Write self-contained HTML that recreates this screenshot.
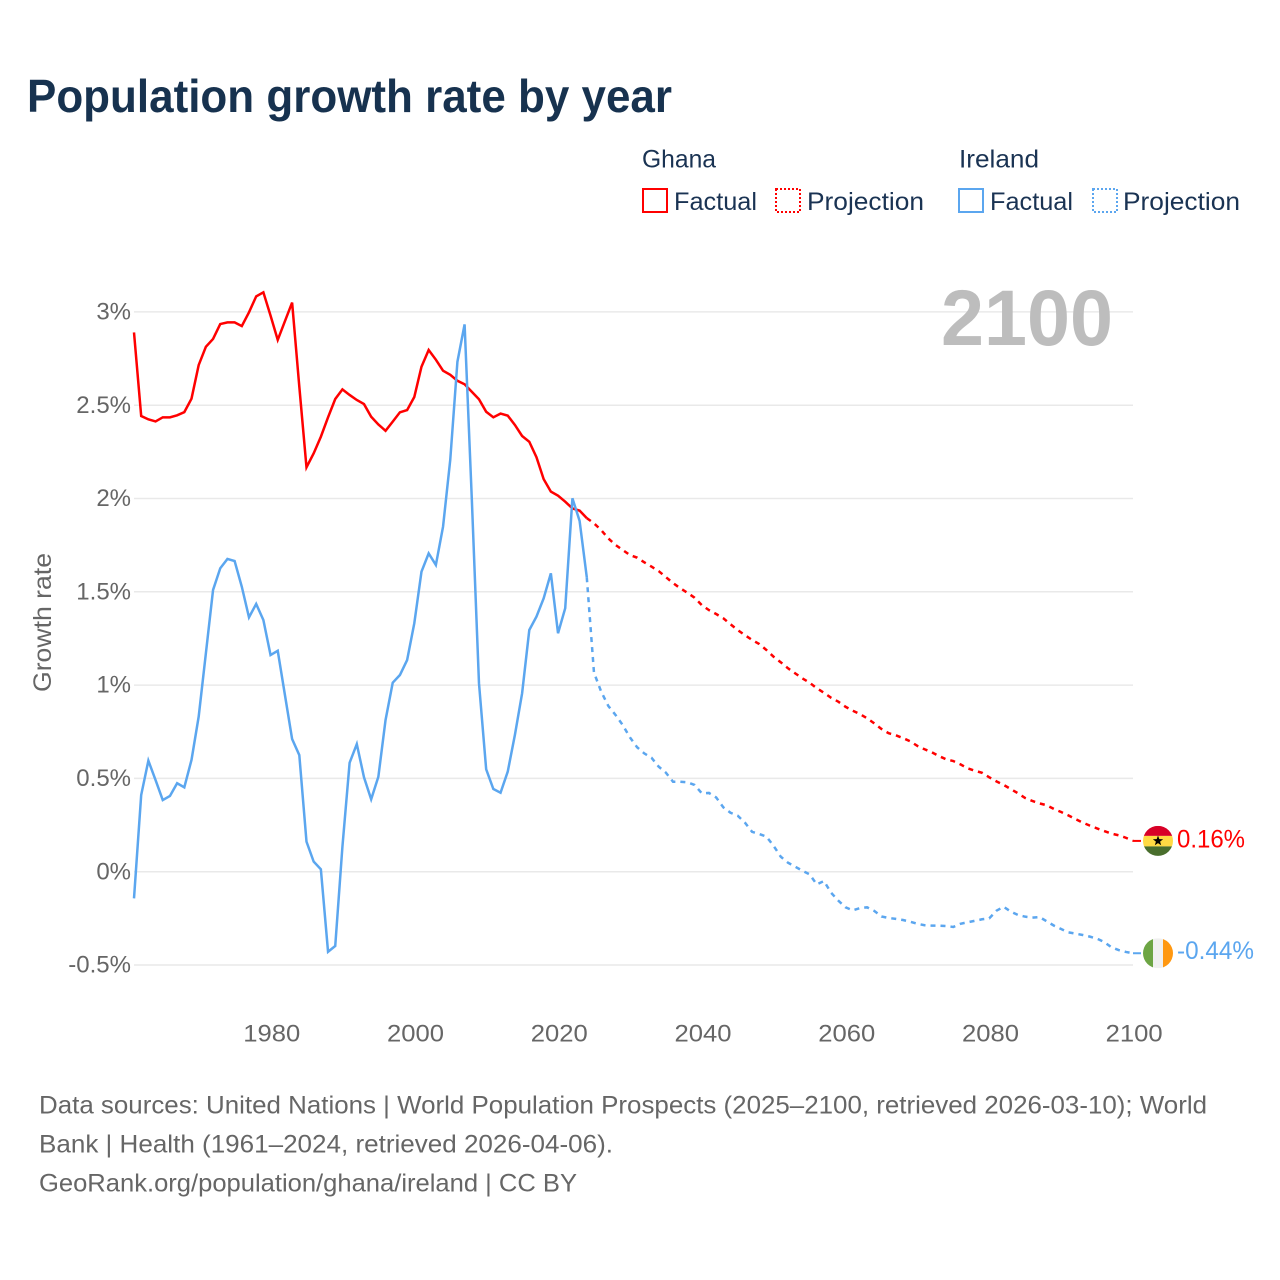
<!DOCTYPE html>
<html lang="en">
<head>
<meta charset="utf-8">
<title>Population growth rate by year</title>
<style>
html,body{margin:0;padding:0;background:#fff;width:1280px;height:1280px;overflow:hidden}
svg{display:block}
text{font-family:"Liberation Sans",sans-serif}
</style>
</head>
<body>
<svg id="chart" xmlns="http://www.w3.org/2000/svg" width="1280" height="1280" viewBox="0 0 1280 1280">
  <rect width="1280" height="1280" fill="#fff"/>
  <text x="27" y="112" font-size="46" font-weight="700" fill="#17324f" textLength="645" lengthAdjust="spacingAndGlyphs">Population growth rate by year</text>

  <g font-size="25" fill="#1a3353">
    <text x="642" y="167.5" textLength="74" lengthAdjust="spacingAndGlyphs">Ghana</text>
    <text x="959" y="167.5" textLength="80" lengthAdjust="spacingAndGlyphs">Ireland</text>
    <g>
      <rect x="643" y="189" width="24" height="23" fill="none" stroke="#ff0000" stroke-width="2"/>
      <text x="674" y="210" textLength="83" lengthAdjust="spacingAndGlyphs">Factual</text>
    </g>
    <g>
      <rect x="776" y="189" width="24" height="23" fill="none" stroke="#ff0000" stroke-width="2" stroke-dasharray="2 2"/>
      <text x="807" y="210" textLength="117" lengthAdjust="spacingAndGlyphs">Projection</text>
    </g>
    <g>
      <rect x="959" y="189" width="24" height="23" fill="none" stroke="#5ba6ef" stroke-width="2"/>
      <text x="990" y="210" textLength="83" lengthAdjust="spacingAndGlyphs">Factual</text>
    </g>
    <g>
      <rect x="1093" y="189" width="24" height="23" fill="none" stroke="#5ba6ef" stroke-width="2" stroke-dasharray="2 2"/>
      <text x="1123" y="210" textLength="117" lengthAdjust="spacingAndGlyphs">Projection</text>
    </g>
  </g>

  <g id="grid"></g>
  <g id="yticks"></g>
  <g id="xticks"></g>
  <text transform="translate(51,622.5) rotate(-90)" text-anchor="middle" font-size="25" fill="#666" textLength="139" lengthAdjust="spacingAndGlyphs">Growth rate</text>
  <text x="941" y="345" font-size="79" font-weight="700" fill="#bdbdbd" textLength="172" lengthAdjust="spacingAndGlyphs">2100</text>

  <g id="series"></g>

  <defs>
    <clipPath id="clip-ghana"><circle id="clip-ghana-c" r="15"/></clipPath>
    <clipPath id="clip-ireland"><circle id="clip-ireland-c" r="15"/></clipPath>
  </defs>
  <g id="ends"></g>

  <g font-size="25" fill="#666">
    <text x="39" y="1113.5" textLength="1168" lengthAdjust="spacingAndGlyphs">Data sources: United Nations | World Population Prospects (2025–2100, retrieved 2026-03-10); World</text>
    <text x="39" y="1152.5" textLength="574" lengthAdjust="spacingAndGlyphs">Bank | Health (1961–2024, retrieved 2026-04-06).</text>
    <text x="39" y="1191.5" textLength="538" lengthAdjust="spacingAndGlyphs">GeoRank.org/population/ghana/ireland | CC BY</text>
  </g>
</svg>
<script>
const yTickValues = [3, 2.5, 2, 1.5, 1, 0.5, 0, -0.5];
const yTickLabels = ["3%", "2.5%", "2%", "1.5%", "1%", "0.5%", "0%", "-0.5%"];
const xTickYears = [1980, 2000, 2020, 2040, 2060, 2080, 2100];
const xTickLabels = ["1980", "2000", "2020", "2040", "2060", "2080", "2100"];

const factualStartYear = 1961;
const projectionStartYear = 2024;

const ghanaFactual = [2.89,2.442,2.424,2.413,2.435,2.435,2.446,2.463,2.535,2.715,
2.813,2.855,2.935,2.944,2.944,2.924,2.998,3.083,3.105,2.98,
2.85,2.95,3.05,2.6,2.167,2.242,2.331,2.435,2.533,2.585,
2.555,2.528,2.506,2.438,2.397,2.363,2.412,2.462,2.474,2.544,
2.706,2.796,2.744,2.685,2.663,2.631,2.612,2.572,2.532,2.465,
2.435,2.455,2.444,2.394,2.335,2.304,2.221,2.104,2.037,2.015,
1.983,1.947,1.935,1.895];

const ghanaProjection = [1.895,1.867,1.831,1.786,1.751,1.724,1.697,1.683,1.658,1.635,
1.611,1.579,1.547,1.519,1.495,1.468,1.429,1.402,1.381,1.358,
1.326,1.295,1.268,1.242,1.22,1.188,1.152,1.122,1.09,1.063,
1.036,1.013,0.983,0.959,0.932,0.911,0.884,0.863,0.845,0.822,
0.795,0.765,0.742,0.731,0.716,0.699,0.674,0.656,0.64,0.62,
0.602,0.593,0.575,0.554,0.541,0.53,0.506,0.484,0.465,0.443,
0.42,0.395,0.379,0.366,0.356,0.336,0.32,0.302,0.282,0.263,
0.247,0.232,0.218,0.204,0.195,0.182,0.165];

const irelandFactual = [-0.143,0.411,0.595,0.491,0.384,0.406,0.474,0.452,0.599,0.831,
1.17,1.51,1.626,1.676,1.665,1.527,1.363,1.435,1.349,1.161,
1.184,0.947,0.711,0.625,0.161,0.054,0.013,-0.429,-0.398,0.134,
0.584,0.684,0.506,0.388,0.509,0.813,1.013,1.054,1.134,1.331,
1.608,1.706,1.644,1.849,2.206,2.733,2.933,2.0,1.01,0.549,
0.443,0.423,0.536,0.733,0.956,1.295,1.367,1.465,1.599,1.278,
1.412,2.001,1.88,1.578];

const irelandProjection = [1.578,1.067,0.965,0.888,0.84,0.786,0.72,0.667,0.634,0.611,
0.563,0.531,0.482,0.482,0.479,0.465,0.42,0.422,0.398,0.345,
0.316,0.3,0.263,0.214,0.202,0.188,0.138,0.08,0.048,0.027,
0.005,-0.014,-0.068,-0.05,-0.113,-0.155,-0.191,-0.207,-0.195,-0.191,
-0.21,-0.24,-0.248,-0.253,-0.259,-0.268,-0.279,-0.287,-0.289,-0.289,
-0.291,-0.296,-0.279,-0.271,-0.263,-0.255,-0.25,-0.209,-0.188,-0.214,
-0.232,-0.241,-0.246,-0.243,-0.266,-0.289,-0.307,-0.325,-0.332,-0.339,
-0.348,-0.359,-0.377,-0.405,-0.42,-0.43,-0.437];

const ghanaEndLabel = "0.16%";
const irelandEndLabel = "-0.44%";

const NS = "http://www.w3.org/2000/svg";
const plotLeft = 134;
const plotRight = 1133;
function xScale(year) { return plotLeft + (year - 1961) * (plotRight - plotLeft) / 139; }
function yScale(v) { return 871.7 - v * 186.6; }

function mk(tag, attrs) {
  const el = document.createElementNS(NS, tag);
  for (const k in attrs) el.setAttribute(k, attrs[k]);
  return el;
}
function pathFor(values, startYear) {
  return values.map((v, i) => (i ? "L" : "M") + xScale(startYear + i).toFixed(2) + " " + yScale(v).toFixed(2)).join(" ");
}

const gridG = document.getElementById("grid");
const yG = document.getElementById("yticks");
yTickValues.forEach((v, i) => {
  const line = mk("line", {x1: plotLeft, x2: plotRight, y1: yScale(v), y2: yScale(v), stroke: "#e9e9e9", "stroke-width": 1.5});
  
  
  gridG.appendChild(line);
  const t = mk("text", {x: 131, y: yScale(v) + 7.6, "text-anchor": "end", "font-size": 24, fill: "#666"});
  
  
  t.textContent = yTickLabels[i];
  yG.appendChild(t);
});

const xG = document.getElementById("xticks");
xTickYears.forEach((yr, i) => {
  const t = mk("text", {x: xScale(yr) + 1.2, y: 1041.5, "text-anchor": "middle", "font-size": 24, fill: "#666", textLength: 57, lengthAdjust: "spacingAndGlyphs"});
  
  
  t.textContent = xTickLabels[i];
  xG.appendChild(t);
});

const seriesG = document.getElementById("series");
const RED = "#ff0000";
const BLUE = "#5ba6ef";
const LINE_W = 2.5;

const ghanaFactualLine = mk("path", {d: pathFor(ghanaFactual, factualStartYear), fill: "none", stroke: RED, "stroke-width": LINE_W, "stroke-linejoin": "miter"});


seriesG.appendChild(ghanaFactualLine);

const ghanaProjectionLine = mk("path", {d: pathFor(ghanaProjection, projectionStartYear), fill: "none", stroke: RED, "stroke-width": LINE_W, "stroke-dasharray": "5 5"});


seriesG.appendChild(ghanaProjectionLine);

const irelandFactualLine = mk("path", {d: pathFor(irelandFactual, factualStartYear), fill: "none", stroke: BLUE, "stroke-width": LINE_W, "stroke-linejoin": "miter"});


seriesG.appendChild(irelandFactualLine);

const irelandProjectionLine = mk("path", {d: pathFor(irelandProjection, projectionStartYear), fill: "none", stroke: BLUE, "stroke-width": LINE_W, "stroke-dasharray": "5 5"});


seriesG.appendChild(irelandProjectionLine);

/* end markers */
const endsG = document.getElementById("ends");
const flagX = 1158;
const ghanaEndY = yScale(ghanaProjection[ghanaProjection.length - 1]);
const irelandEndY = yScale(irelandProjection[irelandProjection.length - 1]);

const ghanaLeader = mk("line", {x1: plotRight, x2: 1141, y1: ghanaEndY, y2: ghanaEndY, stroke: RED, "stroke-width": 2});


endsG.appendChild(ghanaLeader);

const irelandLeader = mk("line", {x1: plotRight, x2: 1141, y1: irelandEndY, y2: irelandEndY, stroke: BLUE, "stroke-width": 2});


endsG.appendChild(irelandLeader);

document.getElementById("clip-ghana-c").setAttribute("cx", flagX);
document.getElementById("clip-ghana-c").setAttribute("cy", ghanaEndY);
document.getElementById("clip-ireland-c").setAttribute("cx", flagX);
document.getElementById("clip-ireland-c").setAttribute("cy", irelandEndY);

const ghanaFlag = mk("g", {"clip-path": "url(#clip-ghana)"});


ghanaFlag.appendChild(mk("rect", {x: flagX - 15, y: ghanaEndY - 15, width: 30, height: 10, fill: "#d80027"}));
ghanaFlag.appendChild(mk("rect", {x: flagX - 15, y: ghanaEndY - 5, width: 30, height: 10.5, fill: "#ffda44"}));
ghanaFlag.appendChild(mk("rect", {x: flagX - 15, y: ghanaEndY + 5.5, width: 30, height: 10, fill: "#496e2d"}));
const starPts = [];
for (let i = 0; i < 10; i++) {
  const r = i % 2 ? 2.2 : 5.4;
  const a = -Math.PI / 2 + i * Math.PI / 5;
  starPts.push((flagX + r * Math.cos(a)).toFixed(2) + "," + (ghanaEndY + r * Math.sin(a)).toFixed(2));
}
ghanaFlag.appendChild(mk("polygon", {points: starPts.join(" "), fill: "#000"}));
endsG.appendChild(ghanaFlag);

const irelandFlag = mk("g", {"clip-path": "url(#clip-ireland)"});


irelandFlag.appendChild(mk("rect", {x: flagX - 15, y: irelandEndY - 15, width: 10, height: 30, fill: "#6da544"}));
irelandFlag.appendChild(mk("rect", {x: flagX - 5, y: irelandEndY - 15, width: 10, height: 30, fill: "#f0f0f0"}));
irelandFlag.appendChild(mk("rect", {x: flagX + 5, y: irelandEndY - 15, width: 10, height: 30, fill: "#ff9811"}));
endsG.appendChild(irelandFlag);

const ghanaLabel = mk("text", {x: 1177, y: ghanaEndY + 6.5, "font-size": 25, fill: RED, textLength: 68, lengthAdjust: "spacingAndGlyphs"});


ghanaLabel.textContent = ghanaEndLabel;
endsG.appendChild(ghanaLabel);

const irelandLabel = mk("text", {x: 1177, y: irelandEndY + 6, "font-size": 25, fill: BLUE, textLength: 77, lengthAdjust: "spacingAndGlyphs"});


irelandLabel.textContent = irelandEndLabel;
endsG.appendChild(irelandLabel);
</script>
</body>
</html>
